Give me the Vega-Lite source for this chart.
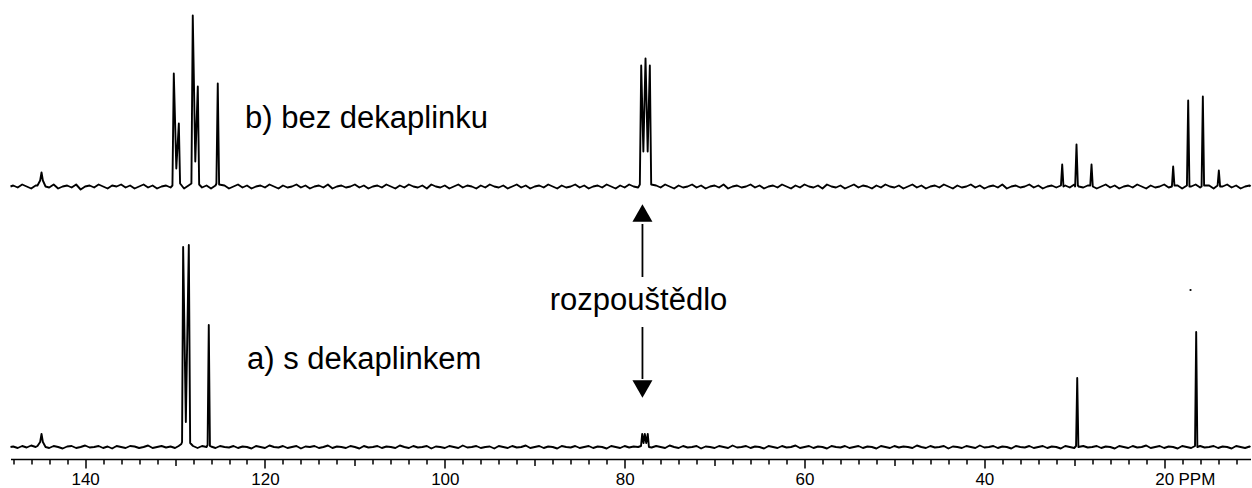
{
"$schema": "https://vega.github.io/schema/vega-lite/v6.json",
"padding": {"left": 9.5, "top": 0, "right": 2, "bottom": 0},
"spacing": 0,
"config": {"view": {"stroke": null}, "font": "Liberation Sans", "concat": {"spacing": 0}},
"datasets": {
"b": [
{"p":148.3,"i":0},{"p":148,"i":1},{"p":147.5,"i":-1},{"p":147,"i":2},{"p":146.5,"i":0},{"p":146,"i":-2},{"p":145.5,"i":1},
{"p":145.3,"i":1},{"p":145,"i":6},{"p":144.85,"i":14},{"p":144.7,"i":6},{"p":144.4,"i":0},
{"p":144,"i":-1},{"p":143.5,"i":2},{"p":143,"i":-2},{"p":142.5,"i":0},{"p":142,"i":1},{"p":141.5,"i":-1},{"p":141,"i":2},{"p":140.5,"i":-3},{"p":140,"i":0},{"p":139.5,"i":1},{"p":139,"i":-1},{"p":138.5,"i":2},{"p":138,"i":0},{"p":137.5,"i":-2},{"p":137,"i":1},{"p":136.5,"i":0},{"p":136,"i":2},{"p":135.5,"i":-1},{"p":135,"i":1},{"p":134.5,"i":-2},{"p":134,"i":0},{"p":133.5,"i":2},{"p":133,"i":-1},{"p":132.5,"i":1},{"p":132,"i":-2},{"p":131.5,"i":0},{"p":131,"i":1},{"p":130.5,"i":-1},
{"p":130.29,"i":1},{"p":130.14,"i":113},{"p":129.86,"i":18},{"p":129.58,"i":63},{"p":129.44,"i":3},{"p":129,"i":-2},{"p":128.5,"i":1},{"p":128.18,"i":3},{"p":128.03,"i":171},{"p":127.75,"i":25},{"p":127.47,"i":100},{"p":127.32,"i":2},{"p":127,"i":-1},{"p":126.5,"i":1},{"p":126,"i":-2},{"p":125.5,"i":1},{"p":125.4,"i":3},{"p":125.25,"i":103},{"p":125.1,"i":2},
{"p":124.5,"i":1},{"p":124,"i":-2},{"p":123.5,"i":0},{"p":123,"i":2},{"p":122.5,"i":-1},{"p":122,"i":1},{"p":121.5,"i":-2},{"p":121,"i":0},{"p":120.5,"i":1},{"p":120,"i":-1},{"p":119.5,"i":2},{"p":119,"i":0},{"p":118.5,"i":-2},{"p":118,"i":1},{"p":117.5,"i":-1},{"p":117,"i":0},{"p":116.5,"i":2},{"p":116,"i":-1},{"p":115.5,"i":1},{"p":115,"i":-2},{"p":114.5,"i":0},{"p":114,"i":1},{"p":113.5,"i":-1},{"p":113,"i":2},{"p":112.5,"i":-2},{"p":112,"i":0},{"p":111.5,"i":1},{"p":111,"i":-1},{"p":110.5,"i":0},{"p":110,"i":2},{"p":109.5,"i":-1},{"p":109,"i":1},{"p":108.5,"i":-2},{"p":108,"i":0},{"p":107.5,"i":1},{"p":107,"i":-1},{"p":106.5,"i":2},{"p":106,"i":0},{"p":105.5,"i":-2},{"p":105,"i":1},{"p":104.5,"i":-1},{"p":104,"i":2},{"p":103.5,"i":0},{"p":103,"i":-1},{"p":102.5,"i":1},{"p":102,"i":-2},{"p":101.5,"i":2},{"p":101,"i":0},{"p":100.5,"i":-1},{"p":100,"i":1},
{"p":99.5,"i":-2},{"p":99,"i":0},{"p":98.5,"i":2},{"p":98,"i":-1},{"p":97.5,"i":1},{"p":97,"i":0},{"p":96.5,"i":-2},{"p":96,"i":1},{"p":95.5,"i":-1},{"p":95,"i":2},{"p":94.5,"i":0},{"p":94,"i":-1},{"p":93.5,"i":1},{"p":93,"i":-2},{"p":92.5,"i":0},{"p":92,"i":2},{"p":91.5,"i":-1},{"p":91,"i":1},{"p":90.5,"i":-2},{"p":90,"i":0},{"p":89.5,"i":1},{"p":89,"i":-1},{"p":88.5,"i":2},{"p":88,"i":0},{"p":87.5,"i":-2},{"p":87,"i":1},{"p":86.5,"i":-1},{"p":86,"i":0},{"p":85.5,"i":2},{"p":85,"i":-1},{"p":84.5,"i":1},{"p":84,"i":-2},{"p":83.5,"i":0},{"p":83,"i":1},{"p":82.5,"i":-1},{"p":82,"i":2},{"p":81.5,"i":0},{"p":81,"i":-2},{"p":80.5,"i":1},{"p":80,"i":-1},{"p":79.5,"i":2},{"p":79,"i":0},{"p":78.5,"i":-1},
{"p":78.31,"i":2},{"p":78.16,"i":121},{"p":77.92,"i":35},{"p":77.68,"i":128},{"p":77.44,"i":35},{"p":77.2,"i":121},{"p":77.05,"i":2},
{"p":76.5,"i":1},{"p":76,"i":-1},{"p":75.5,"i":2},{"p":75,"i":0},{"p":74.5,"i":-2},{"p":74,"i":1},{"p":73.5,"i":-1},{"p":73,"i":0},{"p":72.5,"i":2},{"p":72,"i":-1},{"p":71.5,"i":1},{"p":71,"i":-2},{"p":70.5,"i":0},{"p":70,"i":1},{"p":69.5,"i":-1},{"p":69,"i":2},{"p":68.5,"i":-2},{"p":68,"i":0},{"p":67.5,"i":1},{"p":67,"i":-1},{"p":66.5,"i":0},{"p":66,"i":2},{"p":65.5,"i":-1},{"p":65,"i":1},{"p":64.5,"i":-2},{"p":64,"i":0},{"p":63.5,"i":1},{"p":63,"i":-1},{"p":62.5,"i":2},{"p":62,"i":0},{"p":61.5,"i":-2},{"p":61,"i":1},{"p":60.5,"i":-1},{"p":60,"i":2},{"p":59.5,"i":0},{"p":59,"i":-1},{"p":58.5,"i":1},{"p":58,"i":-2},{"p":57.5,"i":2},{"p":57,"i":0},{"p":56.5,"i":-1},{"p":56,"i":1},{"p":55.5,"i":-2},{"p":55,"i":0},{"p":54.5,"i":2},{"p":54,"i":-1},{"p":53.5,"i":1},{"p":53,"i":0},{"p":52.5,"i":-2},{"p":52,"i":1},{"p":51.5,"i":-1},{"p":51,"i":2},{"p":50.5,"i":0},{"p":50,"i":-1},
{"p":49.5,"i":1},{"p":49,"i":-2},{"p":48.5,"i":0},{"p":48,"i":2},{"p":47.5,"i":-1},{"p":47,"i":1},{"p":46.5,"i":-2},{"p":46,"i":0},{"p":45.5,"i":1},{"p":45,"i":-1},{"p":44.5,"i":2},{"p":44,"i":0},{"p":43.5,"i":-2},{"p":43,"i":1},{"p":42.5,"i":-1},{"p":42,"i":0},{"p":41.5,"i":2},{"p":41,"i":-1},{"p":40.5,"i":1},{"p":40,"i":-2},{"p":39.5,"i":0},{"p":39,"i":1},{"p":38.5,"i":-1},{"p":38,"i":2},{"p":37.5,"i":-2},{"p":37,"i":0},{"p":36.5,"i":1},{"p":36,"i":-1},{"p":35.5,"i":0},{"p":35,"i":2},{"p":34.5,"i":-1},{"p":34,"i":1},{"p":33.5,"i":-2},{"p":33,"i":0},{"p":32.5,"i":1},{"p":32,"i":-1},
{"p":31.48,"i":1},{"p":31.34,"i":22},{"p":31.2,"i":0},
{"p":31,"i":1},{"p":30.5,"i":-1},{"p":30,"i":2},
{"p":29.9,"i":0},{"p":29.75,"i":42},{"p":29.6,"i":1},
{"p":29.5,"i":0},{"p":29,"i":-1},{"p":28.5,"i":1},
{"p":28.22,"i":1},{"p":28.08,"i":22},{"p":27.94,"i":0},
{"p":27.5,"i":-2},{"p":27,"i":0},{"p":26.5,"i":2},{"p":26,"i":-1},{"p":25.5,"i":1},{"p":25,"i":-2},{"p":24.5,"i":0},{"p":24,"i":1},{"p":23.5,"i":-1},{"p":23,"i":2},{"p":22.5,"i":0},{"p":22,"i":-2},{"p":21.5,"i":1},{"p":21,"i":-1},{"p":20.5,"i":0},{"p":20,"i":2},{"p":19.5,"i":-1},
{"p":19.14,"i":0},{"p":19,"i":20},{"p":18.86,"i":1},
{"p":18.5,"i":1},{"p":18,"i":-2},
{"p":17.47,"i":1},{"p":17.33,"i":86},{"p":17.19,"i":0},
{"p":17,"i":0},{"p":16.5,"i":2},{"p":16,"i":-1},
{"p":15.84,"i":0},{"p":15.7,"i":90},{"p":15.56,"i":1},
{"p":15,"i":1},{"p":14.5,"i":-2},
{"p":14.06,"i":1},{"p":13.92,"i":16},{"p":13.78,"i":0},
{"p":13.5,"i":0},{"p":13,"i":2},{"p":12.5,"i":-1},{"p":12,"i":1},{"p":11.5,"i":-2},{"p":11,"i":0},{"p":10.5,"i":1},{"p":10.4,"i":0}
],
"a": [
{"p":148.3,"i":0},{"p":148,"i":0.5},{"p":147.5,"i":-1},{"p":147,"i":1},{"p":146.5,"i":-0.5},{"p":146,"i":1.5},{"p":145.5,"i":0},
{"p":145.3,"i":1},{"p":145,"i":5},{"p":144.85,"i":13},{"p":144.7,"i":5},{"p":144.4,"i":0},
{"p":144,"i":-1},{"p":143.5,"i":1},{"p":143,"i":0},{"p":142.5,"i":-1.5},{"p":142,"i":0.5},{"p":141.5,"i":1},{"p":141,"i":-1},{"p":140.5,"i":0},{"p":140,"i":1.5},{"p":139.5,"i":-0.5},{"p":139,"i":0},{"p":138.5,"i":1},{"p":138,"i":-1},{"p":137.5,"i":0.5},{"p":137,"i":-1.5},{"p":136.5,"i":1},{"p":136,"i":0},{"p":135.5,"i":-1},{"p":135,"i":1},{"p":134.5,"i":0.5},{"p":134,"i":-1},{"p":133.5,"i":0},{"p":133,"i":1.5},{"p":132.5,"i":-1},{"p":132,"i":0},{"p":131.5,"i":1},{"p":131,"i":-0.5},{"p":130.5,"i":0.5},{"p":130,"i":-1},
{"p":129.6,"i":1},{"p":129.3,"i":3},{"p":129.22,"i":5},{"p":129.1,"i":200},{"p":128.8,"i":25},{"p":128.47,"i":202},{"p":128.32,"i":4},{"p":128,"i":1},{"p":127.5,"i":-1},{"p":127,"i":1},{"p":126.5,"i":0},{"p":126.38,"i":2},{"p":126.25,"i":122},{"p":126.12,"i":1},
{"p":126,"i":0.5},{"p":125.5,"i":-1},{"p":125,"i":1},{"p":124.5,"i":0},{"p":124,"i":-0.5},{"p":123.5,"i":1},{"p":123,"i":-1},{"p":122.5,"i":0.5},{"p":122,"i":0},{"p":121.5,"i":-1.5},{"p":121,"i":1},{"p":120.5,"i":0},{"p":120,"i":-1},{"p":119.5,"i":1.5},{"p":119,"i":0},{"p":118.5,"i":-0.5},{"p":118,"i":1},{"p":117.5,"i":-1},{"p":117,"i":0},{"p":116.5,"i":1},{"p":116,"i":-1.5},{"p":115.5,"i":0.5},{"p":115,"i":0},{"p":114.5,"i":1},{"p":114,"i":-1},{"p":113.5,"i":0},{"p":113,"i":1.5},{"p":112.5,"i":-1},{"p":112,"i":0.5},{"p":111.5,"i":0},{"p":111,"i":-1},{"p":110.5,"i":1},{"p":110,"i":0},{"p":109.5,"i":-1.5},{"p":109,"i":1},{"p":108.5,"i":-0.5},{"p":108,"i":0},{"p":107.5,"i":1},{"p":107,"i":-1},{"p":106.5,"i":0.5},{"p":106,"i":0},{"p":105.5,"i":-1},{"p":105,"i":1.5},{"p":104.5,"i":0},{"p":104,"i":-1},{"p":103.5,"i":1},{"p":103,"i":-0.5},{"p":102.5,"i":0},{"p":102,"i":1},{"p":101.5,"i":-1.5},{"p":101,"i":0.5},{"p":100.5,"i":0},{"p":100,"i":-1},
{"p":99.5,"i":1},{"p":99,"i":0},{"p":98.5,"i":-1},{"p":98,"i":1.5},{"p":97.5,"i":-0.5},{"p":97,"i":0},{"p":96.5,"i":1},{"p":96,"i":-1},{"p":95.5,"i":0},{"p":95,"i":0.5},{"p":94.5,"i":-1.5},{"p":94,"i":1},{"p":93.5,"i":0},{"p":93,"i":-1},{"p":92.5,"i":1},{"p":92,"i":-0.5},{"p":91.5,"i":0},{"p":91,"i":1.5},{"p":90.5,"i":-1},{"p":90,"i":0},{"p":89.5,"i":1},{"p":89,"i":-1},{"p":88.5,"i":0.5},{"p":88,"i":0},{"p":87.5,"i":-1.5},{"p":87,"i":1},{"p":86.5,"i":0},{"p":86,"i":-0.5},{"p":85.5,"i":1},{"p":85,"i":-1},{"p":84.5,"i":0},{"p":84,"i":1},{"p":83.5,"i":-1},{"p":83,"i":0.5},{"p":82.5,"i":0},{"p":82,"i":-1.5},{"p":81.5,"i":1},{"p":81,"i":0},{"p":80.5,"i":-1},{"p":80,"i":1},{"p":79.5,"i":-0.5},{"p":79,"i":0.5},{"p":78.5,"i":0},
{"p":78.18,"i":1},{"p":78.05,"i":13},{"p":77.9,"i":4},{"p":77.76,"i":13},{"p":77.6,"i":4},{"p":77.43,"i":13},{"p":77.3,"i":0},
{"p":77,"i":-0.5},{"p":76.5,"i":1},{"p":76,"i":0},{"p":75.5,"i":-1},{"p":75,"i":1.5},{"p":74.5,"i":0},{"p":74,"i":-1},{"p":73.5,"i":1},{"p":73,"i":-0.5},{"p":72.5,"i":0},{"p":72,"i":1},{"p":71.5,"i":-1.5},{"p":71,"i":0.5},{"p":70.5,"i":0},{"p":70,"i":-1},{"p":69.5,"i":1},{"p":69,"i":0},{"p":68.5,"i":-1},{"p":68,"i":1.5},{"p":67.5,"i":-0.5},{"p":67,"i":0},{"p":66.5,"i":1},{"p":66,"i":-1},{"p":65.5,"i":0.5},{"p":65,"i":0},{"p":64.5,"i":-1.5},{"p":64,"i":1},{"p":63.5,"i":0},{"p":63,"i":-1},{"p":62.5,"i":1},{"p":62,"i":-0.5},{"p":61.5,"i":0},{"p":61,"i":1.5},{"p":60.5,"i":-1},{"p":60,"i":0},{"p":59.5,"i":1},{"p":59,"i":-1},{"p":58.5,"i":0.5},{"p":58,"i":0},{"p":57.5,"i":-1.5},{"p":57,"i":1},{"p":56.5,"i":0},{"p":56,"i":-0.5},{"p":55.5,"i":1},{"p":55,"i":-1},{"p":54.5,"i":0},{"p":54,"i":1},{"p":53.5,"i":-1},{"p":53,"i":0.5},{"p":52.5,"i":0},{"p":52,"i":-1.5},{"p":51.5,"i":1},{"p":51,"i":0},{"p":50.5,"i":-1},{"p":50,"i":1},
{"p":49.5,"i":-0.5},{"p":49,"i":0.5},{"p":48.5,"i":0},{"p":48,"i":-1},{"p":47.5,"i":1.5},{"p":47,"i":0},{"p":46.5,"i":-1},{"p":46,"i":1},{"p":45.5,"i":-0.5},{"p":45,"i":0},{"p":44.5,"i":1},{"p":44,"i":-1.5},{"p":43.5,"i":0.5},{"p":43,"i":0},{"p":42.5,"i":-1},{"p":42,"i":1},{"p":41.5,"i":0},{"p":41,"i":-1},{"p":40.5,"i":1.5},{"p":40,"i":-0.5},{"p":39.5,"i":0},{"p":39,"i":1},{"p":38.5,"i":-1},{"p":38,"i":0.5},{"p":37.5,"i":0},{"p":37,"i":-1.5},{"p":36.5,"i":1},{"p":36,"i":0},{"p":35.5,"i":-0.5},{"p":35,"i":1},{"p":34.5,"i":-1},{"p":34,"i":0},{"p":33.5,"i":1},{"p":33,"i":-1},{"p":32.5,"i":0.5},{"p":32,"i":0},{"p":31.5,"i":-1.5},{"p":31,"i":1},{"p":30.5,"i":0},{"p":30,"i":-1},
{"p":29.8,"i":1},{"p":29.67,"i":69},{"p":29.54,"i":0},
{"p":29,"i":1},{"p":28.5,"i":-0.5},{"p":28,"i":0},{"p":27.5,"i":1},{"p":27,"i":-1},{"p":26.5,"i":0.5},{"p":26,"i":0},{"p":25.5,"i":-1.5},{"p":25,"i":1},{"p":24.5,"i":0},{"p":24,"i":-1},{"p":23.5,"i":1},{"p":23,"i":-0.5},{"p":22.5,"i":0},{"p":22,"i":1.5},{"p":21.5,"i":-1},{"p":21,"i":0},{"p":20.5,"i":1},{"p":20,"i":-1},{"p":19.5,"i":0.5},{"p":19,"i":0},{"p":18.5,"i":-1.5},{"p":18,"i":1},{"p":17.5,"i":0},{"p":17,"i":-1},
{"p":16.57,"i":1},{"p":16.44,"i":115},{"p":16.31,"i":0},
{"p":16,"i":1},{"p":15.5,"i":-0.5},{"p":15,"i":0},{"p":14.5,"i":1},{"p":14,"i":-1},{"p":13.5,"i":0.5},{"p":13,"i":0},{"p":12.5,"i":-1.5},{"p":12,"i":1},{"p":11.5,"i":0},{"p":11,"i":-1},{"p":10.5,"i":0.5},{"p":10.4,"i":0}
]
},
"vconcat": [
{
"width": 1240, "height": 200,
"layer": [
{"data": {"name": "b"},
 "mark": {"type": "line", "color": "black", "strokeWidth": 1.9, "strokeJoin": "round"},
 "encoding": {
  "x": {"field": "p", "type": "quantitative", "scale": {"domain": [10.4, 148.3], "reverse": true, "nice": false, "zero": false}, "axis": null},
  "y": {"field": "i", "type": "quantitative", "scale": {"domain": [-13.5, 186.5], "nice": false, "zero": false}, "axis": null}
 }},
{"data": {"values": [{"t": "b) bez dekaplinku", "p": 122.22, "i": 58.2}]},
 "mark": {"type": "text", "align": "left", "baseline": "alphabetic", "fontSize": 31, "font": "Liberation Sans", "color": "black"},
 "encoding": {
  "x": {"field": "p", "type": "quantitative"},
  "y": {"field": "i", "type": "quantitative"},
  "text": {"field": "t"}
 }}
]
},
{
"width": 1240, "height": 259,
"resolve": {"axis": {"x": "independent"}},
"layer": [
{"data": {"name": "a"},
 "mark": {"type": "line", "color": "black", "strokeWidth": 1.9, "strokeJoin": "round"},
 "encoding": {
  "x": {"field": "p", "type": "quantitative", "scale": {"domain": [10.4, 148.3], "reverse": true, "nice": false, "zero": false},
   "axis": {
    "orient": "bottom",
    "values": [140,120,100,80,60,40,20],
    "tickSize": 9,
    "domainColor": "black", "domainWidth": 1.5, "tickColor": "black", "tickWidth": 1.5,
    "labelFont": "Liberation Sans", "labelFontSize": 17, "labelColor": "black", "labelPadding": 3, "labelAlign": "center",
    "labelFlush": false, "labelOverlap": false, "grid": false, "title": null
   }},
  "y": {"field": "i", "type": "quantitative", "scale": {"domain": [-12, 247], "nice": false, "zero": false}, "axis": null}
 }},
{"data": {"values": [{"p": 78.02, "i": 223, "i2": 170}, {"p": 78.02, "i": 120, "i2": 68}]},
 "mark": {"type": "rule", "color": "black", "strokeWidth": 1.8},
 "encoding": {
  "x": {"field": "p", "type": "quantitative",
   "axis": {"orient": "bottom", "values": [148,146,144,142,138,136,134,132,128,126,124,122,118,116,114,112,108,106,104,102,98,96,94,92,88,86,84,82,78,76,74,72,68,66,64,62,58,56,54,52,48,46,44,42,38,36,34,32,28,26,24,22,18,16,14,12],
    "tickSize": 5, "labels": false, "domain": false, "grid": false, "title": null, "tickColor": "black", "tickWidth": 1.5}},
  "y": {"field": "i", "type": "quantitative"},
  "y2": {"field": "i2"}
 }},
{"data": {"values": [{"p": 78.02, "i": 234}]},
 "mark": {"type": "point", "shape": "triangle-up", "filled": true, "color": "black", "size": 400, "opacity": 1},
 "encoding": {
  "x": {"field": "p", "type": "quantitative",
   "axis": {"orient": "bottom", "values": [130,110,90,70,50,30], "tickSize": 6.5, "labels": false, "domain": false, "grid": false, "title": null, "tickColor": "black", "tickWidth": 1.5}},
  "y": {"field": "i", "type": "quantitative"}
 }},
{"data": {"values": [{"p": 78.02, "i": 58}]},
 "mark": {"type": "point", "shape": "triangle-down", "filled": true, "color": "black", "size": 400, "opacity": 1},
 "encoding": {
  "x": {"field": "p", "type": "quantitative", "axis": null},
  "y": {"field": "i", "type": "quantitative"}
 }},
{"data": {"values": [{"p": 17.07, "i": 157}]},
 "mark": {"type": "point", "filled": true, "color": "black", "size": 5, "opacity": 1},
 "encoding": {
  "x": {"field": "p", "type": "quantitative", "axis": null},
  "y": {"field": "i", "type": "quantitative"}
 }},
{"data": {"values": [{"t": "PPM", "p": 18.41, "i": -25}]},
 "mark": {"type": "text", "align": "left", "baseline": "top", "fontSize": 17, "font": "Liberation Sans", "color": "black"},
 "encoding": {
  "x": {"field": "p", "type": "quantitative", "axis": null},
  "y": {"field": "i", "type": "quantitative"},
  "text": {"field": "t"}
 }},
{"data": {"values": [{"t": "rozpouštědlo", "p": 78.46, "i": 137}]},
 "mark": {"type": "text", "align": "center", "baseline": "alphabetic", "fontSize": 31, "font": "Liberation Sans", "color": "black"},
 "encoding": {
  "x": {"field": "p", "type": "quantitative", "axis": null},
  "y": {"field": "i", "type": "quantitative"},
  "text": {"field": "t"}
 }},
{"data": {"values": [{"t": "a) s dekaplinkem", "p": 121.99, "i": 78}]},
 "mark": {"type": "text", "align": "left", "baseline": "alphabetic", "fontSize": 31, "font": "Liberation Sans", "color": "black"},
 "encoding": {
  "x": {"field": "p", "type": "quantitative", "axis": null},
  "y": {"field": "i", "type": "quantitative"},
  "text": {"field": "t"}
 }}
]
}
]
}
